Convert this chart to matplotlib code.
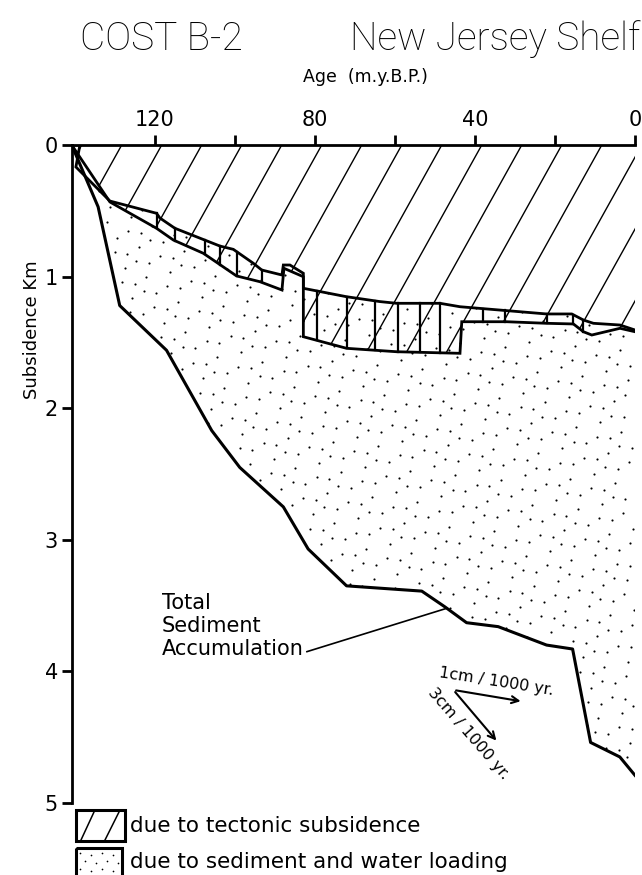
import numpy as np
import matplotlib.pyplot as plt
from matplotlib.patches import Polygon, Rectangle
from matplotlib.collections import LineCollection

plt.rcParams['font.family'] = ['DejaVu Sans']

# total sediment accumulation curve (age in m.y.B.P., depth in km)
total_age = [140.8, 134.2, 128.8, 117.1, 105.8, 98.8, 87.9, 81.7, 72.1,
             53.3, 47.5, 42.1, 34.2, 22.1, 15.6, 11.1, 3.8, 0.0]
total_depth = [0.0, 0.47, 1.22, 1.56, 2.17, 2.45, 2.75, 3.07, 3.35,
               3.39, 3.51, 3.63, 3.66, 3.80, 3.83, 4.54, 4.65, 4.79]

# upper edge of the paleo-water-depth band (base of tectonic subsidence)
band_top_age = [140.8, 138.75, 139.75, 131.25, 119.6, 118.75, 115.0, 103.75,
                100.4, 95.4, 93.3, 88.25, 87.9, 86.25, 82.9, 82.9, 72.1, 63.75,
                59.6, 48.75, 43.75, 22.1, 15.8, 12.9, 10.4, 3.75, 0.0]
band_top_depth = [0.0, 0.0, 0.167, 0.426, 0.519, 0.555, 0.633, 0.768,
                  0.793, 0.899, 0.950, 0.988, 0.912, 0.912, 0.975, 1.089, 1.153, 1.190,
                  1.203, 1.203, 1.229, 1.284, 1.284, 1.330, 1.355, 1.368, 1.406]

# lower edge of the band
band_bot_age = [140.8, 131.25, 119.6, 115.4, 107.9, 99.6, 93.75, 88.25,
                87.75, 82.9, 82.9, 72.1, 59.6, 43.75, 43.3, 32.1, 22.1,
                15.4, 12.9, 10.8, 3.75, 0.0]
band_bot_depth = [0.0, 0.433, 0.633, 0.722, 0.823, 0.995, 1.039, 1.102,
                  0.937, 1.001, 1.457, 1.545, 1.571, 1.583, 1.343, 1.343, 1.355,
                  1.360, 1.419, 1.444, 1.393, 1.419]

# ages of the short bars that split the band into intervals
divider_ages = [119.6, 115.0, 107.5, 103.75, 99.6, 93.3, 79.6, 72.1, 65.0,
                59.25, 53.75, 48.75, 37.9, 32.5, 22.1, 15.4, 12.9]

age_ticks = [120, 80, 40, 0]
age_minor = [100, 60, 20]
depth_ticks = [0, 1, 2, 3, 4, 5]

fig = plt.figure(figsize=(6.42, 8.75), dpi=100)
ax = fig.add_axes([0.1117, 0.0823, 0.8774, 0.752])
ax.set_xlim(140.8, 0)
ax.set_ylim(5, 0)

# diagonal ruling for tectonic subsidence, clipped to the area above the band
hatch_area = Polygon([(band_bot_age[0], 0), (band_bot_age[-1], 0)]
                     + list(zip(band_bot_age[::-1], band_bot_depth[::-1])),
                     closed=True, facecolor='none', edgecolor='none')
ax.add_patch(hatch_area)
run = 18.3  # m.y. per km along each ruled line
rules = [[(a0, 0), (a0 + run * 5.2, 5.2)] for a0 in np.arange(-101.7, 141, 10)]
lc = LineCollection(rules, colors='k', linewidths=1.0)
lc.set_clip_path(hatch_area)
ax.add_collection(lc)

# stipple for sediment and water loading, below the band top
# (low-discrepancy R2 sequence gives an even, irregular dot spread)
stip_area = Polygon(list(zip(band_top_age, band_top_depth))
                    + list(zip(total_age[::-1], total_depth[::-1])),
                    closed=True, facecolor='none', edgecolor='none')
ax.add_patch(stip_area)
n = np.arange(1, 1700)
u = (0.5 + n * 0.7548776662) % 1.0
v = (0.5 + n * 0.5698402910) % 1.0
sc = ax.scatter(140.8 * u, 5.0 * v, s=2.4, c='k', linewidths=0)
sc.set_clip_path(stip_area)

# outlines
ax.plot(band_top_age, band_top_depth, color='k', lw=2.0, solid_joinstyle='miter')
ax.plot(band_bot_age, band_bot_depth, color='k', lw=2.0, solid_joinstyle='miter')
ax.plot(total_age, total_depth, color='k', lw=2.2)

m = slice(3, None)
top_a, top_d = np.array(band_top_age[m])[::-1], np.array(band_top_depth[m])[::-1]
bot_a, bot_d = np.array(band_bot_age[1:])[::-1], np.array(band_bot_depth[1:])[::-1]
for a in divider_ages:
    ax.plot([a, a], [np.interp(a, top_a, top_d), np.interp(a, bot_a, bot_d)],
            color='k', lw=1.6)

# annotation of the total curve
ax.text(118.3, 3.655, "Total\nSediment\nAccumulation", ha='left', va='center',
        fontsize=15, linespacing=1.2)
ax.plot([82.0, 47.0], [3.85, 3.52], color='k', lw=1.2)

# sedimentation-rate scale arrows
ax.annotate('', xy=(27.9, 4.23), xytext=(45.4, 4.141),
            arrowprops=dict(arrowstyle='->,head_length=0.5,head_width=0.25', lw=1.5, color='k'))
ax.annotate('', xy=(34.2, 4.542), xytext=(45.4, 4.141),
            arrowprops=dict(arrowstyle='->,head_length=0.5,head_width=0.25', lw=1.5, color='k'))
ax.text(34.6, 4.078, "1cm / 1000 yr.", rotation=-9, rotation_mode='anchor',
        ha='center', va='center', fontsize=11.5)
ax.text(41.7, 4.47, "3cm / 1000 yr.", rotation=-49, rotation_mode='anchor',
        ha='center', va='center', fontsize=11.5)

# axes styling
for s in ('bottom', 'right'):
    ax.spines[s].set_visible(False)
for s in ('top', 'left'):
    ax.spines[s].set_linewidth(2.0)
ax.xaxis.tick_top()
ax.set_xticks(age_ticks)
ax.set_xticks(age_minor, minor=True)
ax.set_xticklabels([str(t) for t in age_ticks])
ax.set_yticks(depth_ticks)
ax.set_yticklabels([str(t) for t in depth_ticks])
ax.tick_params(axis='x', which='both', direction='out', length=7, width=2.0,
               pad=4, labelsize=15)
ax.tick_params(axis='y', direction='out', length=7, width=2.0, pad=3, labelsize=15)

fig.text(0.05, 1 - 330 / 875, "Subsidence Km", rotation=90, ha='center',
         va='center', fontsize=13)
fig.text(365 / 642, 1 - 77 / 875, "Age  (m.y.B.P.)", ha='center', va='center',
         fontsize=12.5)
fig.text(80 / 642, 1 - 50 / 875, "COST B-2", ha='left', va='baseline',
         fontsize=28, family=['Roboto', 'DejaVu Sans'], fontweight='light')
fig.text(640 / 642, 1 - 50 / 875, "New Jersey Shelf", ha='right', va='baseline',
         fontsize=28, family=['Roboto', 'DejaVu Sans'], fontweight='light')

# legend drawn in pixel space below the plot
lg = fig.add_axes([0, 0, 1, 1], facecolor='none')
lg.set_xlim(0, 642)
lg.set_ylim(875, 0)
lg.axis('off')
lg.add_patch(Rectangle((76, 810), 49, 31, fill=False, lw=2.2, ec='k'))
lg.plot([81, 94], [840, 812], color='k', lw=1.1)
lg.plot([105, 119], [840, 812], color='k', lw=1.1)
box2 = Rectangle((76, 848), 46, 32, fill=False, lw=2.2, ec='k', clip_on=False)
lg.add_patch(box2)
gx, gy = np.meshgrid(np.arange(0, 4), np.arange(0, 3))
gx, gy = gx.ravel(), gy.ravel()
lg.scatter(80 + 11 * gx + (gy % 2) * 5, 853 + 8 * gy + (gx % 2) * 2, s=1.5, c='k', linewidths=0)
lg.text(130, 826, "due to tectonic subsidence", ha='left', va='center', fontsize=15.5)
lg.text(130, 862, "due to sediment and water loading", ha='left', va='center', fontsize=15.5)

fig.savefig("out.png", dpi=100)
